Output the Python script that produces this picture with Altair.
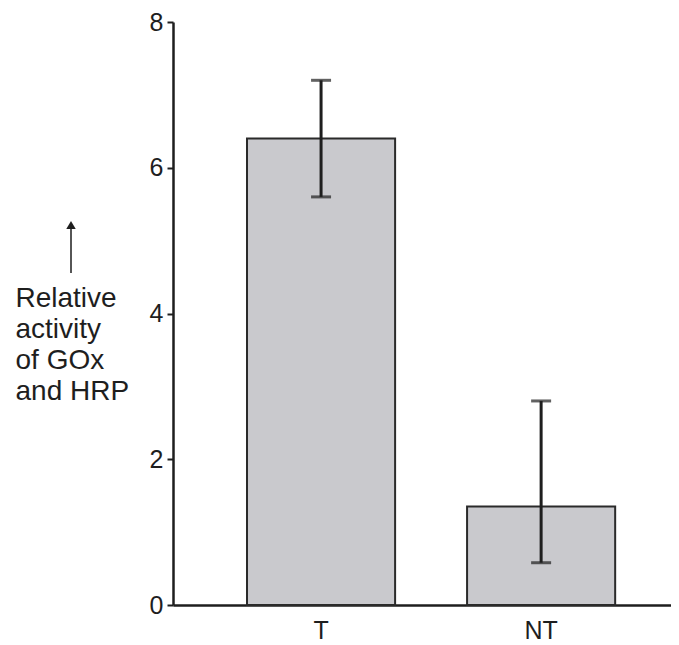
import altair as alt
import pandas as pd

categories = ["T", "NT"]
values = [6.4, 1.35]
err_low = [5.6, 0.58]
err_high = [7.2, 2.8]
y_ticks = [0, 2, 4, 6, 8]
y_title = ["Relative", "activity", "of GOx", "and HRP"]

df = pd.DataFrame({"group": categories, "value": values, "lo": err_low, "hi": err_high})

FONT = "Liberation Sans"
INK = "#1e1e1e"

x_enc = alt.X(
    "group:N",
    sort=categories,
    scale=alt.Scale(paddingInner=0.327, paddingOuter=0.295, align=0.57),
    axis=alt.Axis(
        title=None, labelAngle=0, labelFontSize=25, labelPadding=13, ticks=False,
        domainWidth=2.5, domainColor=INK, labelColor=INK, labelFont=FONT,
    ),
)

y_scale = alt.Scale(domain=[0, 8], nice=False, zero=True)

bars = alt.Chart(df).mark_bar(fill="#c9c9cd", stroke="#2a2a2a", strokeWidth=2).encode(
    x=x_enc,
    y=alt.Y(
        "value:Q",
        scale=y_scale,
        axis=alt.Axis(
            values=y_ticks, format="d", grid=False, tickSize=6, tickWidth=2, tickColor=INK,
            labelFontSize=25, labelPadding=4, labelFont=FONT, labelColor=INK,
            domainWidth=2.5, domainColor=INK,
            title=y_title, titleAngle=0, titleAlign="left", titleBaseline="alphabetic",
            titleX=-158, titleY=284, titleFontSize=28, titleFontWeight="normal",
            titleLineHeight=31, titleFont=FONT, titleColor=INK,
        ),
    ),
)

err = alt.Chart(df).mark_rule(strokeWidth=3, color=INK).encode(
    x=alt.X("group:N", sort=categories),
    y=alt.Y("lo:Q", scale=y_scale),
    y2="hi:Q",
)

cap_hi = alt.Chart(df).mark_tick(orient="horizontal", size=20, thickness=3, color=INK).encode(
    x=alt.X("group:N", sort=categories),
    y=alt.Y("hi:Q", scale=y_scale),
)
cap_lo = alt.Chart(df).mark_tick(orient="horizontal", size=20, thickness=3, color=INK).encode(
    x=alt.X("group:N", sort=categories),
    y=alt.Y("lo:Q", scale=y_scale),
)

one = pd.DataFrame({"k": [0]})
arrow_line = alt.Chart(one).mark_rule(strokeWidth=1.5, color=INK).encode(
    x=alt.value(-102), y=alt.value(207), y2=alt.value(251)
)
arrow_head = alt.Chart(one).mark_point(shape="triangle-up", filled=True, size=90, color=INK, opacity=1).encode(
    x=alt.value(-102), y=alt.value(203)
)

chart = alt.layer(bars, err, cap_hi, cap_lo, arrow_line, arrow_head).properties(
    width=498,
    height=583,
    autosize=alt.AutoSizeParams(type="none"),
    padding={"left": 165, "top": 14, "right": 0, "bottom": 40},
    background="white",
).configure_view(stroke=None)

chart.save("out.html", embed_options={"renderer": "svg", "actions": False})
